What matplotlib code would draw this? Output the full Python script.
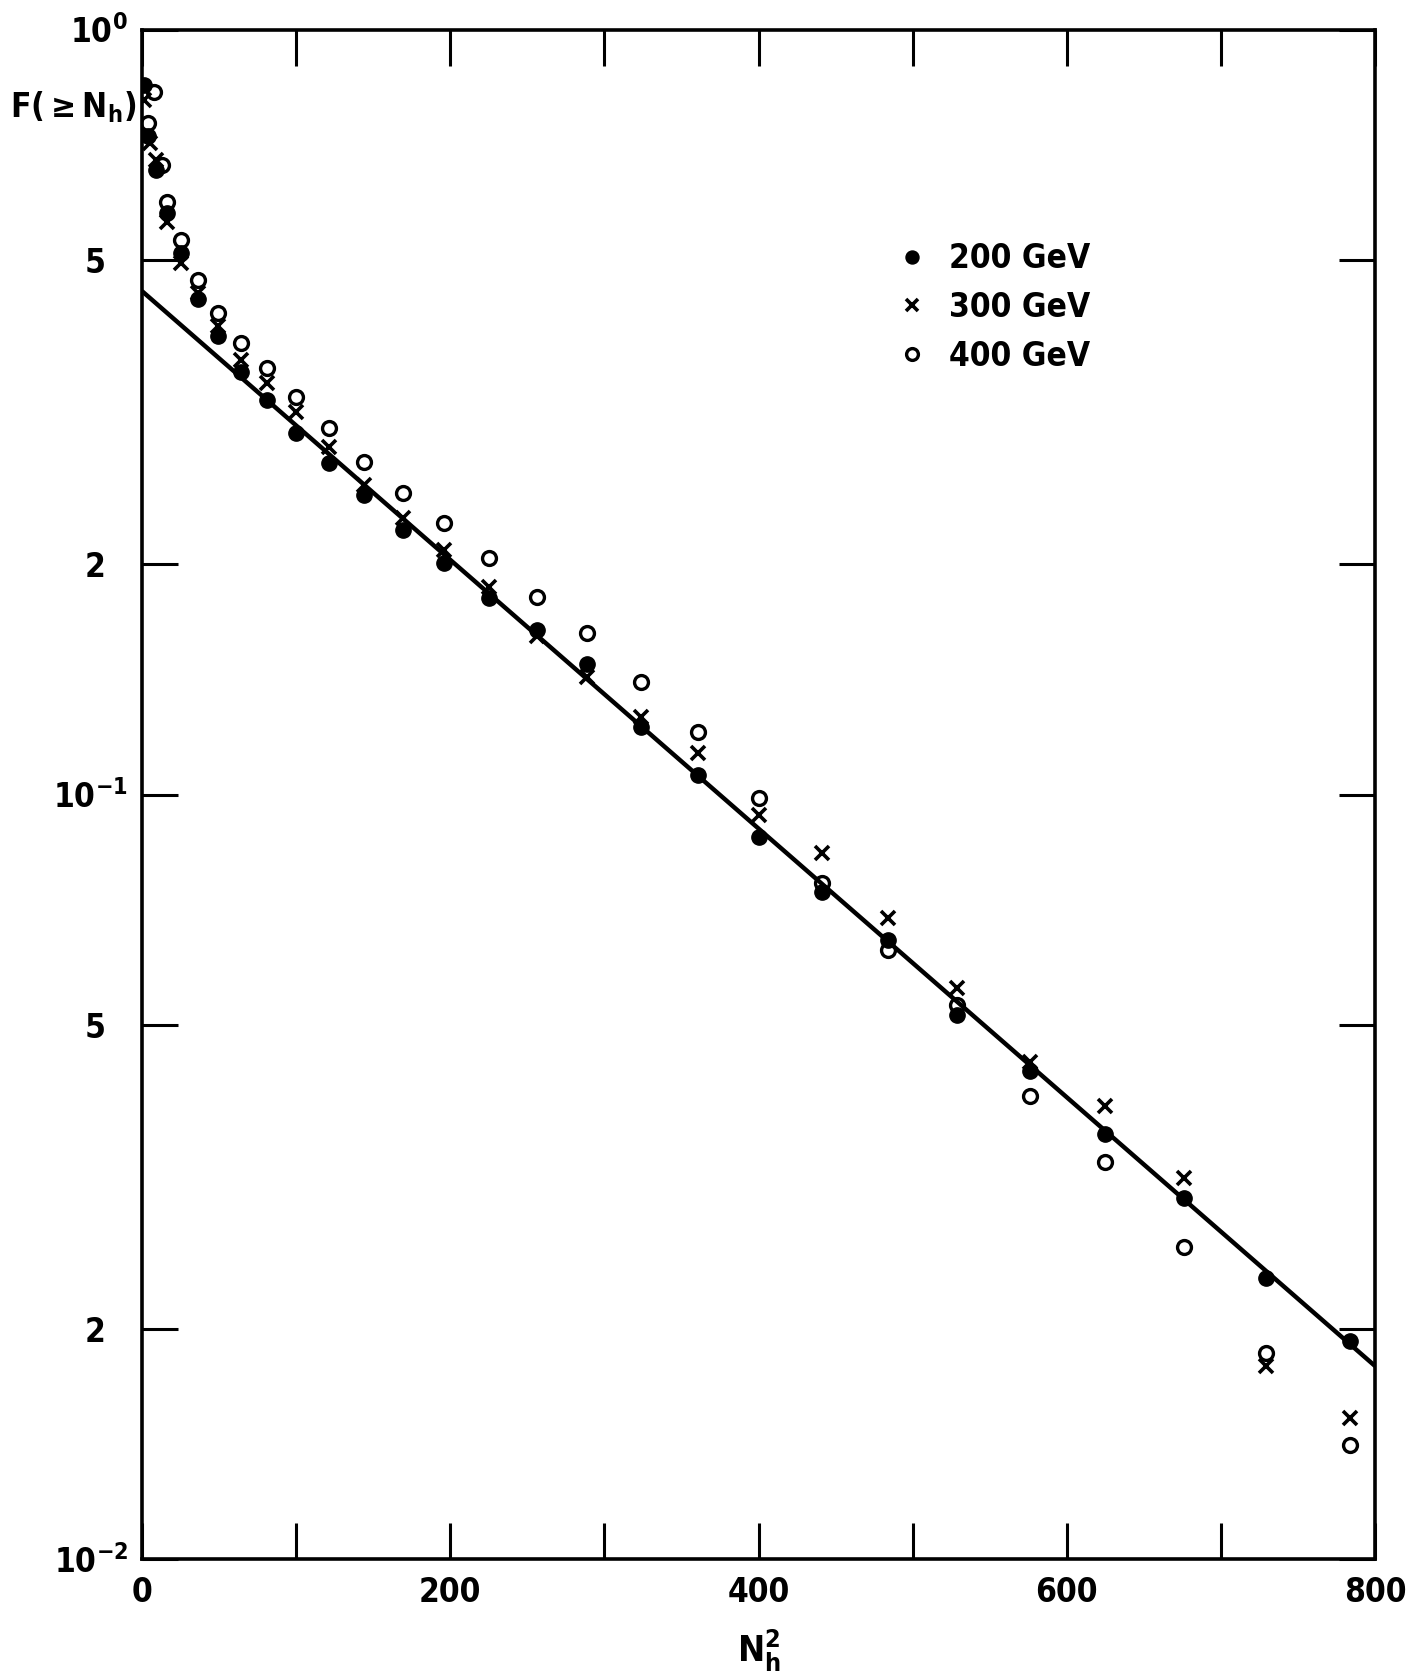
import matplotlib
matplotlib.use('Agg')
import matplotlib.pyplot as plt

plt.rcParams['font.family'] = 'DejaVu Sans'
plt.rcParams['font.weight'] = 'bold'
plt.rcParams['font.stretch'] = 'condensed'

# N_h^2 positions (the first few open circles were drawn slightly to the right)
x200 = [1, 4, 9, 16, 25, 36, 49, 64, 81, 100, 121, 144, 169, 196, 225, 256,
        289, 324, 361, 400, 441, 484, 529, 576, 625, 676, 729, 784]
x300 = [1, 5, 9, 16, 25, 36, 49, 64, 81, 100, 121, 144, 169, 196, 225, 256,
        289, 324, 361, 400, 441, 484, 529, 576, 625, 676, 729, 784]
x400 = [8, 4, 13, 16, 25, 36, 49, 64, 81, 100, 121, 144, 169, 196, 225, 256,
        289, 324, 361, 400, 441, 484, 529, 576, 625, 676, 729, 784]

F200 = [0.846, 0.725, 0.655, 0.575, 0.51, 0.445, 0.398, 0.357, 0.328, 0.297,
        0.271, 0.246, 0.222, 0.201, 0.1805, 0.164, 0.148, 0.1227, 0.106,
        0.0881, 0.0746, 0.0645, 0.0515, 0.0435, 0.036, 0.0297, 0.0233, 0.0193]
F300 = [0.809, 0.71, 0.675, 0.561, 0.495, 0.452, 0.41, 0.370, 0.345, 0.3165,
        0.285, 0.254, 0.2297, 0.2088, 0.1869, 0.161, 0.1426, 0.1264, 0.1132,
        0.094, 0.0838, 0.0689, 0.0558, 0.0447, 0.0392, 0.0315, 0.0179, 0.0153]
F400 = [0.829, 0.755, 0.665, 0.5955, 0.531, 0.4706, 0.4256, 0.3897, 0.3607,
        0.3305, 0.301, 0.2718, 0.248, 0.2266, 0.2036, 0.1814, 0.1627, 0.1404,
        0.1208, 0.0989, 0.0766, 0.0626, 0.0531, 0.0404, 0.0331, 0.0256,
        0.0186, 0.0141]

# straight line fit (end points)
fit_x = [0, 800]
fit_y = [0.455, 0.0179]

yticks = [0.01, 0.02, 0.05, 0.1, 0.2, 0.5, 1.0]
ylabels = [r'$\mathbf{10^{-2}}$', '2', '5', r'$\mathbf{10^{-1}}$', '2', '5',
           r'$\mathbf{10^{0}}$']
xticks = [0, 200, 400, 600, 800]
xminor = [100, 300, 500, 700]

fig = plt.figure(figsize=(14.22, 16.79), dpi=100)
ax = fig.add_axes([0.0999, 0.0712, 0.8671, 0.9112])

ax.plot(fit_x, fit_y, color='black', lw=3.2, solid_capstyle='butt', zorder=2)
ax.plot(x200, F200, 'o', color='black', ms=11, label='200 GeV', zorder=3)
ax.plot(x300, F300, 'x', color='black', ms=10, mew=2.6, label='300 GeV', zorder=4)
ax.plot(x400, F400, 'o', mfc='none', mec='black', ms=10, mew=2.4,
        label='400 GeV', zorder=5)

ax.set_yscale('log')
ax.set_xlim(0, 800)
ax.set_ylim(0.01, 1.0)

ax.set_yticks(yticks)
ax.set_yticklabels(ylabels)
ax.yaxis.set_minor_locator(matplotlib.ticker.NullLocator())
ax.set_xticks(xticks)
ax.set_xticklabels([str(v) for v in xticks])
ax.set_xticks(xminor, minor=True)

ax.tick_params(which='both', direction='in', length=26, width=2.2,
               top=True, right=True, labelsize=24)
ax.tick_params(axis='y', pad=10)
ax.tick_params(axis='x', pad=12)
for t, lab in zip(ax.yaxis.get_major_ticks(), ylabels):
    if len(lab) == 1:
        t.set_pad(26)

for s in ax.spines.values():
    s.set_linewidth(2.6)

fig.text(0.007, 0.936, r'$\mathbf{F(\geq N_h)}$', fontsize=24,
         ha='left', va='center')
fig.text(0.5334, 0.0167, r'$\mathbf{N_h^2}$', fontsize=26,
         ha='center', va='center')

ax.legend(loc='upper left', bbox_to_anchor=(0.611, 0.861), frameon=False,
          handlelength=1.0, handletextpad=0.6, labelspacing=0.47,
          borderpad=0, borderaxespad=0, markerscale=0.85, fontsize=24)

fig.savefig('out.png', dpi=100)
